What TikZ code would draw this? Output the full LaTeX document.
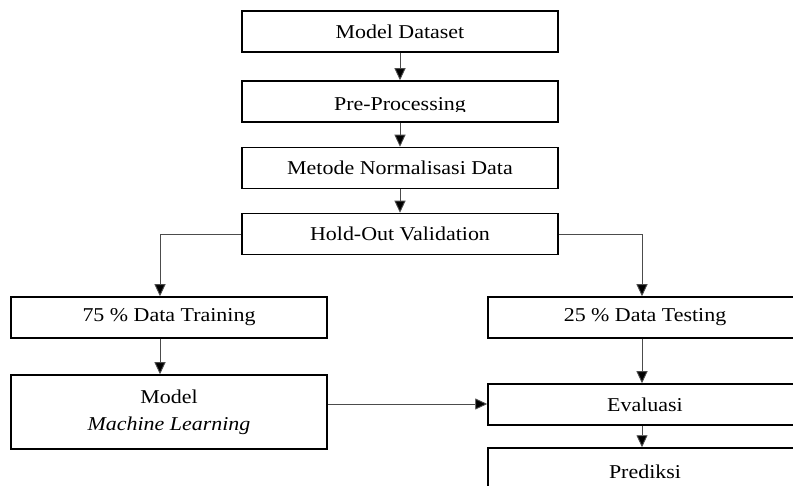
\documentclass[tikz,border=0pt]{standalone}
\usepackage{fontspec}
\setmainfont{Liberation Serif}[FakeStretch=1.12]
\usetikzlibrary{arrows.meta}
\begin{document}
\begin{tikzpicture}[x=1pt,y=-1pt,
  txt/.style={font=\fontsize{19.6}{27}\selectfont, align=center, inner sep=0pt},
  box/.style={txt, draw=black, line width=1.5pt, minimum height=41pt},
  lbox/.style={box, minimum width=316pt},
  rbox/.style={box, minimum width=314pt},
  conn/.style={draw=black!70, line width=0.9pt, -{Triangle[length=12pt,width=11pt,fill=black]}},
  ]
\clip (0,0) rectangle (793,486);
\fill[white] (0,0) rectangle (793,486);
% top column
\node[lbox] (ds)  at (400,31.5)  {Model Dataset};
\node[lbox] (pre) at (400,101.5) {};
\begin{scope}
  \clip (244,83) rectangle (556,111.5);
  \node[txt, anchor=base] (pretxt) at (400,110.5) {Pre-Processing};
\end{scope}
\node[lbox] (met) at (400,168)   {Metode Normalisasi Data};
\node[lbox] (hov) at (400,234)   {Hold-Out Validation};
% left column
\node[lbox] (tr) at (169,317.5) {75 \% Data Training};
\node[lbox, minimum height=74pt] (ml) at (169,412) {Model\\\textit{Machine Learning}};
% right column
\node[rbox] (ts) at (645,317.5) {25 \% Data Testing};
\node[rbox] (ev) at (645,404.5) {Evaluasi};
\node[rbox, minimum height=48pt] (pr) at (645,472) {Prediksi};
% helper coordinates
\coordinate (lx) at (160,0);
\coordinate (rx) at (642,0);
\coordinate (my) at (0,404);
% connectors
\draw[conn] (ds) -- (pre);
\draw[conn] (pre) -- (met);
\draw[conn] (met) -- (hov);
\draw[conn] (hov.west) -| (lx |- tr.north);
\draw[conn] (hov.east) -| (rx |- ts.north);
\draw[conn] (lx |- tr.south) -- (lx |- ml.north);
\draw[conn] (rx |- ts.south) -- (rx |- ev.north);
\draw[conn] (ml.east |- my) -- (ev.west |- my);
\draw[conn] (rx |- ev.south) -- (rx |- pr.north);
\end{tikzpicture}
\end{document}
